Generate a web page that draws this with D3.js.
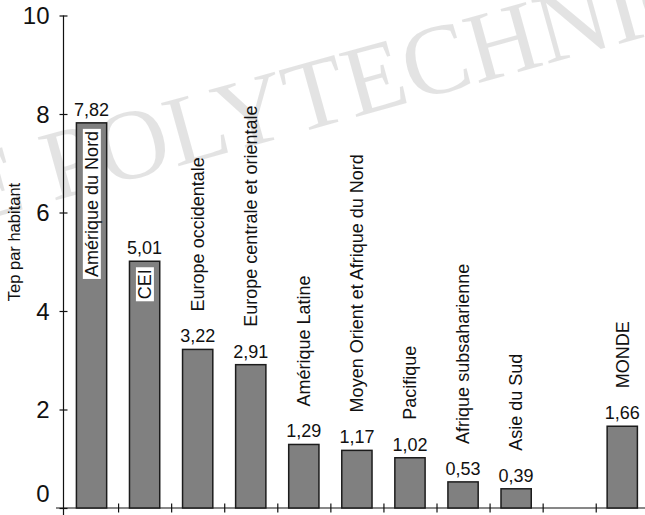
<!DOCTYPE html>
<html>
<head>
<meta charset="utf-8">
<script src="https://cdn.jsdelivr.net/npm/d3@7"></script>
<style>
  body { margin: 0; background: #fff; }
  svg { display: block; font-family: "Liberation Sans", Arial, Helvetica, sans-serif; }
</style>
</head>
<body>
<svg id="chart" width="645" height="515"></svg>
<script>
// regions (the empty string is the blank slot before MONDE)
let regions = ["Amérique du Nord", "CEI", "Europe occidentale", "Europe centrale et orientale",
  "Amérique Latine", "Moyen Orient et Afrique du Nord", "Pacifique", "Afrique subsaharienne",
  "Asie du Sud", "", "MONDE"]
let tepValues = [7.82, 5.01, 3.22, 2.91, 1.29, 1.17, 1.02, 0.53, 0.39, null, 1.66]
let insideLabels = ["Amérique du Nord", "CEI"]
let yTicks = [0, 2, 4, 6, 8, 10]
let yTitle = "Tep par habitant"
let watermark = "ÉCOLE POLYTECHNIQUE"

let svg = d3.select("#chart")
let width = 645
let height = 515

let frLocale = d3.formatLocale({ decimal: ",", thousands: " ", grouping: [3], currency: ["", " €"] })
let fmt = frLocale.format(".2f")

let x = d3.scaleBand()
  .domain(d3.range(regions.length))
  .range([65, 648.8])
  .paddingInner(0.43)
  .paddingOuter(0.215)

let slot = d3.scaleLinear().domain([0, regions.length]).range(x.range())

let y = d3.scaleLinear().domain([0, 10]).range([508, 15.5])

// watermark behind everything
svg.append("text")
  .attr("transform", "translate(-282,294) rotate(-15.5)")
  .attr("font-family", "'Liberation Serif', 'Times New Roman', serif")
  .attr("font-size", 100)
  .attr("fill", "#000")
  .attr("fill-opacity", 0.11)
  .text(watermark)

// y axis
let yAxis = svg.append("g")
  .attr("transform", `translate(${x.range()[0] - 1.5},0)`)
  .call(d3.axisLeft(y).tickValues(yTicks).tickSize(4).tickPadding(10).tickSizeOuter(0))

yAxis.select(".domain").remove()
yAxis.selectAll(".tick line").attr("x1", -4).attr("x2", 4).attr("stroke", "#111").attr("stroke-width", 1.2)
yAxis.selectAll(".tick text")
  .attr("font-size", 24)
  .attr("font-family", "'Liberation Sans', Arial, sans-serif")
  .attr("fill", "#111")
  .attr("dy", d => d === 0 ? "-0.28em" : "0.35em")

yAxis.append("line")
  .attr("x1", 0).attr("x2", 0)
  .attr("y1", y(10)).attr("y2", y(0) + 7)
  .attr("stroke", "#111").attr("stroke-width", 1.2)

// x axis with ticks between the slots
let xAxis = svg.append("g")
  .attr("transform", `translate(0,${y(0)})`)
  .call(d3.axisBottom(slot).tickValues(d3.range(1, regions.length)).tickFormat("").tickSizeOuter(0))

xAxis.select(".domain").remove()
xAxis.selectAll(".tick line").attr("y1", -4.5).attr("y2", 4.5).attr("stroke", "#111").attr("stroke-width", 1.2)
xAxis.append("line")
  .attr("x1", x.range()[0] - 9).attr("x2", width)
  .attr("stroke", "#111").attr("stroke-width", 1.2)

// y title
svg.append("text")
  .attr("transform", `translate(20,242) rotate(-90)`)
  .attr("text-anchor", "middle")
  .attr("font-size", 16.5)
  .attr("fill", "#111")
  .text(yTitle)

let data = regions.map((r, i) => ({ i: i, name: r, value: tepValues[i] })).filter(d => d.value != null)

// bars
svg.selectAll("rect.bar")
  .data(data)
  .enter()
  .append("rect")
  .attr("class", "bar")
  .attr("x", d => x(d.i))
  .attr("width", x.bandwidth())
  .attr("y", d => y(d.value))
  .attr("height", d => y(0) - y(d.value))
  .attr("fill", "#808080")
  .attr("stroke", "#1c1c1c")
  .attr("stroke-width", 1.5)

// value labels
svg.selectAll("text.value")
  .data(data)
  .enter()
  .append("text")
  .attr("class", "value")
  .attr("x", d => x(d.i) + x.bandwidth() / 2)
  .attr("y", d => y(d.value) - 7)
  .attr("text-anchor", "middle")
  .attr("font-size", 18)
  .attr("fill", "#111")
  .text(d => fmt(d.value))

// region names above the bars
svg.selectAll("text.name")
  .data(data.filter(d => insideLabels.indexOf(d.name) < 0))
  .enter()
  .append("text")
  .attr("class", "name")
  .attr("transform", d => `translate(${x(d.i) + x.bandwidth() / 2},${y(d.value) - 38}) rotate(-90)`)
  .attr("dy", "0.35em")
  .attr("font-size", 18)
  .attr("fill", "#111")
  .text(d => d.name)

// region names inside the bars, on a white box
let inside = svg.selectAll("g.inside")
  .data(data.filter(d => insideLabels.indexOf(d.name) >= 0))
  .enter()
  .append("g")
  .attr("class", "inside")
  .attr("transform", d => `translate(${x(d.i) + x.bandwidth() / 2},${y(d.value) + 8}) rotate(-90)`)

inside.append("rect")
  .attr("fill", "#fff")

inside.append("text")
  .attr("text-anchor", "end")
  .attr("dy", "0.35em")
  .attr("font-size", 18)
  .attr("fill", "#111")
  .text(d => d.name)

inside.each(function () {
  let g = d3.select(this)
  let b = g.select("text").node().getBBox()
  g.select("rect")
    .attr("x", b.x - 2).attr("y", b.y + 1)
    .attr("width", b.width + 4).attr("height", b.height - 2)
})
</script>
</body>
</html>
